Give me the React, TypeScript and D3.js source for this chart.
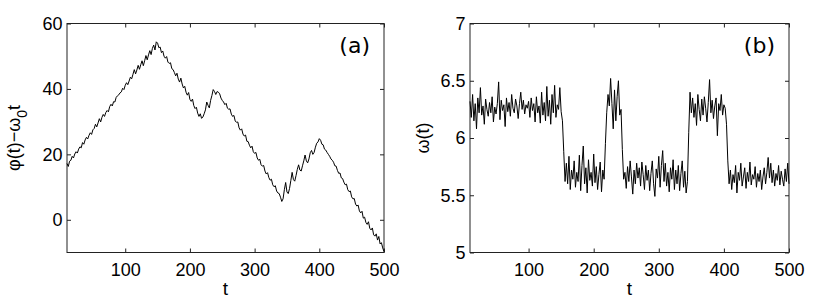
import React, { useEffect, useRef } from 'react';
import * as d3 from 'd3';

// samples are every 2 time units from t = 10 to t = 500
const tStart = 10;
const tStep = 2;
const tTicks = [100, 200, 300, 400, 500];

// panel (a): phi(t) - omega0 t
const phaseTicks = [0, 20, 40, 60];
const phase = [
  17.2, 16.3, 17.9, 18.2, 19.4, 18.9, 20.1, 20.8, 20.4, 21.6,
  22.3, 22.0, 23.6, 23.1, 24.4, 25.2, 24.7, 25.8, 26.6, 26.1,
  27.5, 27.9, 29.2, 28.4, 29.6, 30.9, 29.9, 31.3, 32.2, 31.6,
  32.8, 33.4, 33.0, 34.6, 35.3, 34.8, 36.1, 36.0, 37.4, 37.9,
  38.2, 38.8, 39.1, 40.2, 39.8, 41.1, 41.9, 41.3, 42.4, 43.6,
  43.1, 44.5, 45.9, 44.6, 45.8, 47.2, 46.0, 47.4, 48.6, 47.1,
  48.6, 50.2, 48.9, 50.4, 51.7, 50.5, 52.4, 53.4, 51.9, 54.4,
  54.0, 52.6, 52.8, 51.1, 51.6, 50.0, 49.4, 49.9, 48.2, 47.8,
  48.0, 46.2, 45.9, 45.0, 44.0, 44.8, 43.0, 42.1, 43.3, 41.5,
  40.3, 40.8, 39.0, 38.1, 38.9, 36.8, 36.2, 36.9, 34.9, 34.0,
  34.4, 32.6, 31.6, 32.4, 31.0, 31.4, 32.4, 33.6, 36.0, 35.0,
  34.2, 36.5, 38.0, 39.8, 39.2, 38.3, 39.2, 39.0, 38.5, 37.2,
  36.5, 36.0, 35.2, 35.6, 34.1, 33.8, 33.9, 32.3, 31.6, 31.9,
  30.2, 29.8, 29.9, 28.1, 27.4, 27.8, 26.2, 25.6, 25.9, 24.0,
  23.9, 22.8, 22.0, 22.5, 20.8, 20.3, 20.6, 18.9, 18.2, 18.5,
  16.8, 16.4, 16.6, 14.9, 14.0, 14.4, 12.9, 12.1, 12.4, 10.7,
  10.1, 10.4, 8.8, 8.2, 8.0, 6.9, 5.6, 6.4, 9.2, 11.4,
  8.5, 8.0, 9.6, 12.0, 14.5, 12.3, 11.8, 13.5, 15.4, 16.8,
  15.2, 14.9, 16.5, 18.0, 19.8, 18.0, 17.4, 18.6, 20.5, 21.2,
  20.0, 20.6, 22.2, 23.4, 23.8, 24.8, 24.3, 23.1, 22.9, 21.6,
  21.3, 20.6, 20.0, 19.4, 18.6, 18.2, 17.6, 16.5, 16.4, 15.1,
  14.2, 14.3, 12.8, 12.6, 11.5, 10.7, 10.9, 9.2, 8.6, 8.8,
  7.0, 6.4, 6.5, 4.8, 4.2, 4.5, 2.7, 2.1, 2.6, 0.5,
  0.8, -0.8, -1.4, -0.6, -2.6, -3.1, -2.5, -4.6, -5.0, -4.3,
  -6.2, -5.1, -7.4, -7.0, -8.6, -9.7
];

// panel (b): omega(t)
const freqTicks = [5, 5.5, 6, 6.5, 7];
const freq = [
  6.32, 6.18, 6.38, 6.15, 6.30, 6.08, 6.35, 6.22, 6.44, 6.20,
  6.28, 6.12, 6.34, 6.25, 6.19, 6.31, 6.22, 6.36, 6.14, 6.27,
  6.21, 6.30, 6.49, 6.16, 6.33, 6.24, 6.29, 6.10, 6.35, 6.23,
  6.31, 6.19, 6.38, 6.26, 6.22, 6.34, 6.28, 6.17, 6.30, 6.40,
  6.25, 6.33, 6.21, 6.29, 6.26, 6.32, 6.18, 6.35, 6.24, 6.30,
  6.14, 6.36, 6.22, 6.28, 6.13, 6.40, 6.20, 6.31, 6.15, 6.45,
  6.19, 6.33, 6.12, 6.38, 6.22, 6.46, 6.18, 6.29, 6.25, 6.44,
  6.23, 6.15, 5.88, 5.62, 5.78, 5.60, 5.84, 5.55, 5.72, 5.64,
  5.80, 5.57, 5.70, 5.62, 5.85, 5.54, 5.76, 5.93, 5.60, 5.74,
  5.52, 5.81, 5.63, 5.70, 5.58, 5.86, 5.61, 5.75, 5.55, 5.68,
  5.79, 5.53, 5.72, 5.64, 5.95, 6.22, 6.38, 6.28, 6.52, 6.30,
  6.08, 6.42, 6.15, 6.36, 6.50, 6.20, 6.25, 5.90, 5.64, 5.70,
  5.56, 5.75, 5.62, 5.80, 5.66, 5.51, 5.72, 5.60, 5.78, 5.65,
  5.74, 5.58, 5.79, 5.68, 5.55, 5.76, 5.63, 5.72, 5.54, 5.69,
  5.80, 5.60, 5.49, 5.73, 5.65, 5.84, 5.57, 5.76, 5.89, 5.62,
  5.78, 5.58, 5.70, 5.53, 5.74, 5.64, 5.81, 5.55, 5.72, 5.60,
  5.76, 5.54, 5.69, 5.80, 5.57, 5.71, 5.52, 5.62, 6.05, 6.40,
  6.22, 6.35, 6.18, 6.30, 6.11, 6.38, 6.25, 6.15, 6.34, 6.20,
  6.36, 6.26, 6.14, 6.31, 6.51, 6.22, 6.33, 6.17, 6.28, 6.35,
  6.02, 6.30, 6.24, 6.38, 6.20, 6.29, 6.26, 6.12, 5.80, 5.60,
  5.72, 5.55, 5.68, 5.61, 5.76, 5.52, 5.70, 5.63, 5.78, 5.58,
  5.66, 5.74, 5.56, 5.70, 5.62, 5.79, 5.59, 5.68, 5.64, 5.75,
  5.57, 5.69, 5.62, 5.72, 5.55, 5.66, 5.74, 5.60, 5.70, 5.83,
  5.65, 5.78, 5.61, 5.72, 5.58, 5.69, 5.63, 5.76, 5.59, 5.71,
  5.64, 5.58, 5.73, 5.62, 5.78, 5.60
];

const FONT = '"Liberation Sans", Arial, Helvetica, sans-serif';

type Panel = {
  x0: number; x1: number; y0: number; y1: number;
  yDomain: [number, number];
  yTicks: number[];
  values: number[];
  tag: string;
  labelX: number;
  label: (t: d3.Selection<SVGTextElement, unknown, null, undefined>) => void;
};

function drawPanel(svg: d3.Selection<SVGSVGElement, unknown, null, undefined>, p: Panel) {
  const x = d3.scaleLinear().domain([tStart, 500]).range([p.x0, p.x1]);
  const y = d3.scaleLinear().domain(p.yDomain).range([p.y1, p.y0]);

  const g = svg.append('g');

  // ticks on all four sides, pointing in
  const styleAxis = (a: d3.Selection<SVGGElement, unknown, null, undefined>) => {
    a.select('.domain').remove();
    a.attr('font-size', 18).attr('font-family', FONT);
    a.selectAll('line').attr('stroke', '#222');
    a.selectAll('text').attr('fill', '#000');
  };

  g.append('g')
    .attr('transform', 'translate(0,' + p.y1 + ')')
    .call(d3.axisBottom(x).tickValues(tTicks).tickSizeInner(-4).tickSizeOuter(0).tickPadding(10.5))
    .call(styleAxis);
  g.append('g')
    .attr('transform', 'translate(0,' + p.y0 + ')')
    .call(d3.axisTop(x).tickValues(tTicks).tickSizeInner(-4).tickSizeOuter(0).tickFormat(() => ''))
    .call(styleAxis);
  g.append('g')
    .attr('transform', 'translate(' + p.x0 + ',0)')
    .call(d3.axisLeft(y).tickValues(p.yTicks).tickSizeInner(-4).tickSizeOuter(0).tickPadding(4.5).tickFormat(d3.format('~g')))
    .call(styleAxis);
  g.append('g')
    .attr('transform', 'translate(' + p.x1 + ',0)')
    .call(d3.axisRight(y).tickValues(p.yTicks).tickSizeInner(-4).tickSizeOuter(0).tickFormat(() => ''))
    .call(styleAxis);

  g.append('rect')
    .attr('x', p.x0)
    .attr('y', p.y0)
    .attr('width', p.x1 - p.x0)
    .attr('height', p.y1 - p.y0)
    .attr('fill', 'none')
    .attr('stroke', '#222')
    .attr('stroke-width', 1);

  const line = d3.line<number>()
    .x((d, i) => x(tStart + i * tStep))
    .y(d => y(d));

  g.append('path')
    .datum(p.values)
    .attr('d', line)
    .attr('fill', 'none')
    .attr('stroke', '#000')
    .attr('stroke-width', 1);

  g.append('text')
    .attr('x', p.x1 - 14)
    .attr('y', 53)
    .attr('text-anchor', 'end')
    .attr('font-family', '"DejaVu Sans", sans-serif')
    .attr('font-size', 22)
    .text(p.tag);

  g.append('text')
    .attr('x', (p.x0 + p.x1) / 2)
    .attr('y', 295)
    .attr('text-anchor', 'middle')
    .attr('font-family', FONT)
    .attr('font-size', 19)
    .text('t');

  const yl = g.append('text')
    .attr('transform', 'translate(' + p.labelX + ',' + (p.y0 + p.y1) / 2 + ') rotate(-90)')
    .attr('text-anchor', 'middle')
    .attr('font-family', FONT)
    .attr('font-size', 18);
  p.label(yl);
}

export default function App() {
  const ref = useRef<SVGSVGElement>(null);

  useEffect(() => {
    const svg = d3.select(ref.current!);
    svg.selectAll('*').remove();

    drawPanel(svg, {
      x0: 67, x1: 384, y0: 23.5, y1: 252.5,
      yDomain: [-10, 60],
      yTicks: phaseTicks,
      values: phase,
      tag: '(a)',
      labelX: 20,
      label: t => {
        t.append('tspan').text('\u03c6(t)\u2212\u03c9');
        t.append('tspan').attr('dy', 7).attr('font-size', 14).text('0');
        t.append('tspan').attr('dy', -7).text('t');
      }
    });

    drawPanel(svg, {
      x0: 470, x1: 789, y0: 23.5, y1: 252.5,
      yDomain: [5, 7],
      yTicks: freqTicks,
      values: freq,
      tag: '(b)',
      labelX: 429,
      label: t => {
        t.text('\u03c9(t)');
      }
    });
  }, []);

  return (
    <svg
      ref={ref}
      width={830}
      height={303}
      style={{ position: 'absolute', left: 0, top: 0, background: '#fff' }}
    />
  );
}
